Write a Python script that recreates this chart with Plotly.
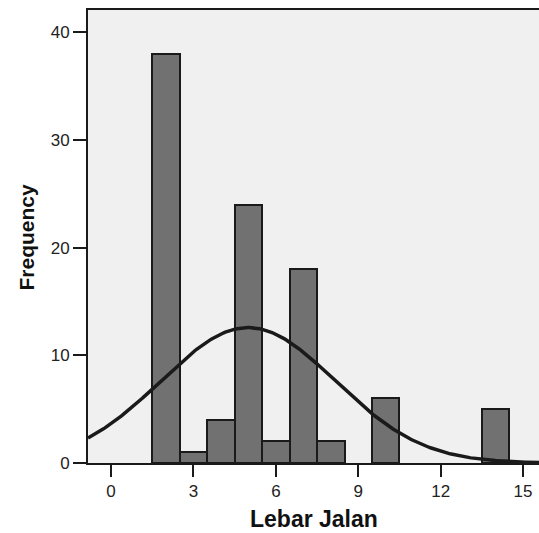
import numpy as np
import plotly.graph_objects as go

# Histogram bins (centers, width 1) and frequencies
bin_centers = [2, 3, 4, 5, 6, 7, 8, 10, 14]
frequencies = [38, 1, 4, 24, 2, 18, 2, 6, 5]
bin_width = 1.0
x_ticks = [0, 3, 6, 9, 12, 15]
y_ticks = [0, 10, 20, 30, 40]

# Normal curve fitted from the histogram data
c = np.array(bin_centers, dtype=float)
f = np.array(frequencies, dtype=float)
n = f.sum()
mean = (c * f).sum() / n
sd = np.sqrt(((c - mean) ** 2 * f).sum() / (n - 1))
xr = [-0.84, 15.58]
xc = np.linspace(xr[0], xr[1], 300)
yc = n * bin_width / (sd * np.sqrt(2 * np.pi)) * np.exp(-0.5 * ((xc - mean) / sd) ** 2)

fig = go.Figure()
fig.add_trace(go.Bar(
    x=bin_centers, y=frequencies, width=bin_width,
    marker=dict(color="#717171", line=dict(color="#1a1a1a", width=2)),
    hoverinfo="x+y",
))
fig.add_trace(go.Scatter(
    x=xc, y=yc, mode="lines",
    line=dict(color="#1a1a1a", width=3.5), hoverinfo="skip",
))

font_family = "Liberation Sans, Arial, sans-serif"
fig.update_layout(
    width=539, height=533,
    margin=dict(l=88, r=0, t=10, b=70),
    paper_bgcolor="white", plot_bgcolor="#f0f0f0",
    showlegend=False, bargap=0,
    font=dict(family=font_family, color="#222222"),
    xaxis=dict(
        range=xr, tickvals=x_ticks, ticks="outside", ticklen=12, tickwidth=2,
        tickcolor="#1a1a1a", showline=True, linecolor="#1a1a1a", linewidth=2,
        mirror=True, showgrid=False, zeroline=False,
        tickfont=dict(size=17, color="#222222"),
    ),
    yaxis=dict(
        range=[0, 42.06], tickvals=y_ticks, ticks="outside", ticklen=13, tickwidth=2,
        tickcolor="#1a1a1a", showline=True, linecolor="#1a1a1a", linewidth=2,
        showgrid=False, zeroline=False,
        tickfont=dict(size=17, color="#222222"),
    ),
    annotations=[
        dict(text="<b>Frequency</b>", xref="paper", yref="paper",
             x=(26 - 88) / 451, y=0.5, xanchor="center", yanchor="middle",
             textangle=-90, showarrow=False,
             font=dict(size=21, color="#111111", family=font_family)),
        dict(text="<b>Lebar Jalan</b>", xref="paper", yref="paper",
             x=0.5, y=(463 - 519) / 453, xanchor="center", yanchor="middle",
             showarrow=False,
             font=dict(size=23, color="#111111", family=font_family)),
    ],
)

fig.write_html("out.html")
